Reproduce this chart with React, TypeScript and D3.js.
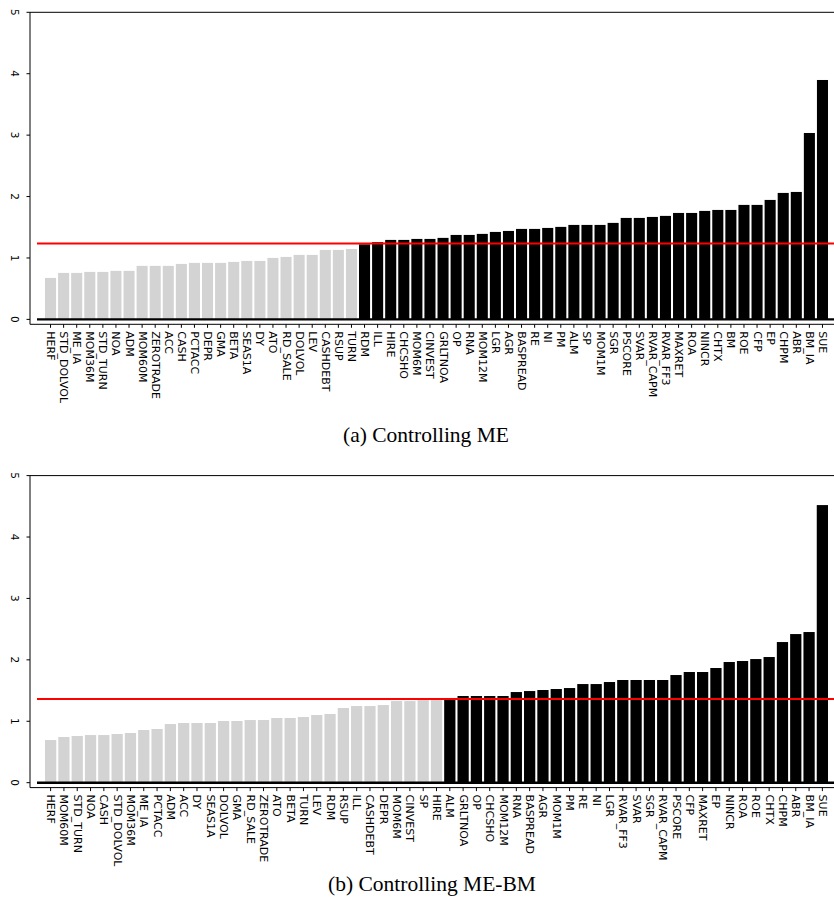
import React from "react";
import * as d3 from "d3";

const topLabels = [
  "HERF","STD_DOLVOL","ME_IA","MOM36M","STD_TURN","NOA","ADM","MOM60M","ZEROTRADE","ACC",
  "CASH","PCTACC","DEPR","GMA","BETA","SEAS1A","DY","ATO","RD_SALE","DOLVOL",
  "LEV","CASHDEBT","RSUP","TURN","RDM","ILL","HIRE","CHCSHO","MOM6M","CINVEST",
  "GRLTNOA","OP","RNA","MOM12M","LGR","AGR","BASPREAD","RE","NI","PM",
  "ALM","SP","MOM1M","SGR","PSCORE","SVAR","RVAR_CAPM","RVAR_FF3","MAXRET","ROA",
  "NINCR","CHTX","BM","ROE","CFP","EP","CHPM","ABR","BM_IA","SUE",
];
const topValues = [
  0.675,0.757,0.757,0.773,0.773,0.79,0.79,0.871,0.871,0.871,
  0.903,0.92,0.92,0.92,0.936,0.952,0.952,1.001,1.017,1.05,
  1.05,1.131,1.131,1.147,1.222,1.257,1.294,1.294,1.31,1.31,
  1.327,1.375,1.375,1.392,1.424,1.44,1.473,1.473,1.489,1.506,
  1.538,1.538,1.538,1.571,1.652,1.652,1.668,1.685,1.733,1.733,
  1.766,1.782,1.782,1.864,1.864,1.945,2.059,2.075,3.035,3.898,
];
const topThreshold = 1.234;
const topGrayCount = 24;

const bottomLabels = [
  "HERF","MOM60M","STD_TURN","NOA","CASH","STD_DOLVOL","MOM36M","ME_IA","PCTACC","ADM",
  "ACC","DY","SEAS1A","DOLVOL","GMA","RD_SALE","ZEROTRADE","ATO","BETA","TURN",
  "LEV","RDM","RSUP","ILL","CASHDEBT","DEPR","MOM6M","CINVEST","SP","HIRE",
  "ALM","GRLTNOA","OP","CHCSHO","MOM12M","RNA","BASPREAD","AGR","MOM1M","PM",
  "RE","NI","LGR","RVAR_FF3","SVAR","SGR","RVAR_CAPM","PSCORE","CFP","MAXRET",
  "EP","NINCR","ROA","ROE","CHTX","CHPM","ABR","BM_IA","SUE",
];
const bottomValues = [
  0.695,0.744,0.76,0.776,0.776,0.793,0.809,0.858,0.874,0.955,
  0.972,0.972,0.972,1.004,1.004,1.02,1.02,1.053,1.053,1.069,
  1.102,1.118,1.216,1.248,1.248,1.264,1.329,1.329,1.345,1.35,
  1.37,1.411,1.411,1.411,1.411,1.476,1.492,1.509,1.525,1.541,
  1.606,1.606,1.639,1.672,1.672,1.672,1.672,1.753,1.802,1.802,
  1.867,1.965,1.981,2.013,2.046,2.29,2.42,2.453,4.52,
];
const bottomThreshold = 1.362;
const bottomGrayCount = 30;

const yTicks = [0, 1, 2, 3, 4, 5];
const captions = ["(a) Controlling ME", "(b) Controlling ME-BM"];

const W = 834;
const H = 909;

type PanelProps = {
  labels: string[];
  values: number[];
  threshold: number;
  grayCount: number;
  offsetY: number;
  caption: string;
  captionY: number;
  captionX: number;
};

function Panel({ labels, values, threshold, grayCount, offsetY, caption, captionY, captionX }: PanelProps) {
  const plotTop = 12.3;
  const plotBottom = 324.3;
  const axisLeft = 30;
  const lineStart = 37;
  const y = d3.scaleLinear().domain([-0.08, 5]).range([plotBottom, plotTop]);
  const x = d3
    .scaleBand<string>()
    .domain(labels)
    .range([45, 828])
    .paddingInner(0.155)
    .paddingOuter(0);
  const bw = x.bandwidth();
  return (
    <g transform={`translate(0,${offsetY})`}>
      {labels.map((l, i) => (
        <rect
          key={l}
          x={x(l)}
          y={y(values[i])}
          width={bw}
          height={y(0) - y(values[i])}
          fill={i < grayCount ? "#d3d3d3" : "#000000"}
        />
      ))}
      <line x1={lineStart} x2={W + 10} y1={y(0)} y2={y(0)} stroke="#000" strokeWidth={2.4} />
      <line x1={lineStart} x2={W + 10} y1={y(threshold)} y2={y(threshold)} stroke="#ff0000" strokeWidth={2} />
      <line x1={axisLeft} x2={W + 10} y1={plotTop} y2={plotTop} stroke="#000" strokeWidth={1} />
      <line x1={axisLeft} x2={W + 10} y1={plotBottom} y2={plotBottom} stroke="#000" strokeWidth={1} />
      <line x1={axisLeft} x2={axisLeft} y1={plotTop} y2={plotBottom} stroke="#000" strokeWidth={1} />
      {yTicks.map((t) => (
        <g key={t}>
          <line x1={axisLeft - 3.5} x2={axisLeft} y1={y(t)} y2={y(t)} stroke="#000" strokeWidth={1} />
          <text
            transform={`translate(15,${y(t)}) rotate(90)`}
            textAnchor="middle"
            dominantBaseline="central"
            fontFamily="DejaVu Sans"
            fontSize={10.5}
            fill="#000"
          >
            {t}
          </text>
        </g>
      ))}
      {labels.map((l) => {
        const cx = (x(l) as number) + bw / 2;
        return (
          <g key={"t" + l}>
            <line x1={cx} x2={cx} y1={plotBottom} y2={plotBottom + 3.5} stroke="#000" strokeWidth={1} />
            <text
              transform={`translate(${cx},${plotBottom + 7}) rotate(90)`}
              textAnchor="start"
              dominantBaseline="central"
              fontFamily="DejaVu Sans"
              fontSize={11}
              fill="#000"
            >
              {l}
            </text>
          </g>
        );
      })}
      <text
        x={captionX}
        y={captionY}
        textAnchor="middle"
        fontFamily="Liberation Serif"
        fontSize={21.5}
        fill="#000"
      >
        {caption}
      </text>
    </g>
  );
}

export default function App() {
  return (
    <svg
      width={W}
      height={H}
      viewBox={`0 0 ${W} ${H}`}
      style={{ position: "absolute", left: 0, top: 0, background: "#fff" }}
    >
      <rect x={0} y={0} width={W} height={H} fill="#fff" />
      <Panel
        labels={topLabels}
        values={topValues}
        threshold={topThreshold}
        grayCount={topGrayCount}
        offsetY={0}
        caption={captions[0]}
        captionY={441.7}
        captionX={426}
      />
      <Panel
        labels={bottomLabels}
        values={bottomValues}
        threshold={bottomThreshold}
        grayCount={bottomGrayCount}
        offsetY={463.3}
        caption={captions[1]}
        captionY={890.7 - 463.3}
        captionX={432}
      />
    </svg>
  );
}
